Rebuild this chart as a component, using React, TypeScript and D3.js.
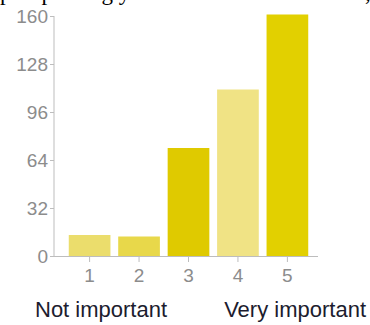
import React from "react";
import * as d3 from "d3";

const categories = ["1", "2", "3", "4", "5"];
const values = [14, 13, 72, 111, 161];
const barColors = ["#ebdd6c", "#e8d84a", "#dfca00", "#f0e385", "#e2d000"];
const yTicks = [0, 32, 64, 96, 128, 160];
const endLabels = ["Not important", "Very important"];
const headerText = "p improving your";

export default function App() {
  const W = 370, H = 325;
  const x = d3.scaleBand<string>().domain(categories).range([61, 316]).padding(0.157);
  const y = d3.scaleLinear().domain([0, 160]).range([256, 16]);
  const axisColor = "#bdbdbd";
  const tickText = "#8c8c8c";
  const font = "'Liberation Sans', Arial, Helvetica, sans-serif";
  return (
    <svg width={W} height={H} style={{ position: "absolute", left: 0, top: 0, background: "#fff" }}>
      <text x={0} y={0} fontFamily="'Liberation Serif', 'Times New Roman', serif" fontSize={23} fill="#000">
        {headerText}
      </text>
      <text x={365} y={0} fontFamily="'Liberation Serif', 'Times New Roman', serif" fontSize={23} fill="#000">,</text>
      {categories.map((c, i) => (
        <rect key={c} x={x(c)} y={y(values[i])} width={x.bandwidth()} height={y(0) - y(values[i])} fill={barColors[i]} />
      ))}
      <line x1={54} x2={54} y1={y(160)} y2={y(0)} stroke={axisColor} strokeWidth={1} />
      <line x1={54} x2={318} y1={y(0) + 0.5} y2={y(0) + 0.5} stroke={axisColor} strokeWidth={1} />
      {yTicks.map((t) => (
        <g key={t}>
          <line x1={50} x2={54} y1={y(t) + 0.5} y2={y(t) + 0.5} stroke={axisColor} />
          <text x={48} y={y(t)} dy="0.35em" textAnchor="end" fontFamily={font} fontSize={19} fill={tickText}>
            {t}
          </text>
        </g>
      ))}
      {categories.map((c) => {
        const cx = (x(c) as number) + x.bandwidth() / 2;
        return (
          <g key={c}>
            <line x1={cx} x2={cx} y1={y(0)} y2={y(0) + 6} stroke={axisColor} />
            <text x={cx} y={282} textAnchor="middle" fontFamily={font} fontSize={19} fill={tickText}>
              {c}
            </text>
          </g>
        );
      })}
      <text x={35} y={317} fontFamily={font} fontSize={22} fill="#1c1c2e">{endLabels[0]}</text>
      <text x={366} y={317} textAnchor="end" fontFamily={font} fontSize={22} fill="#1c1c2e">{endLabels[1]}</text>
    </svg>
  );
}
